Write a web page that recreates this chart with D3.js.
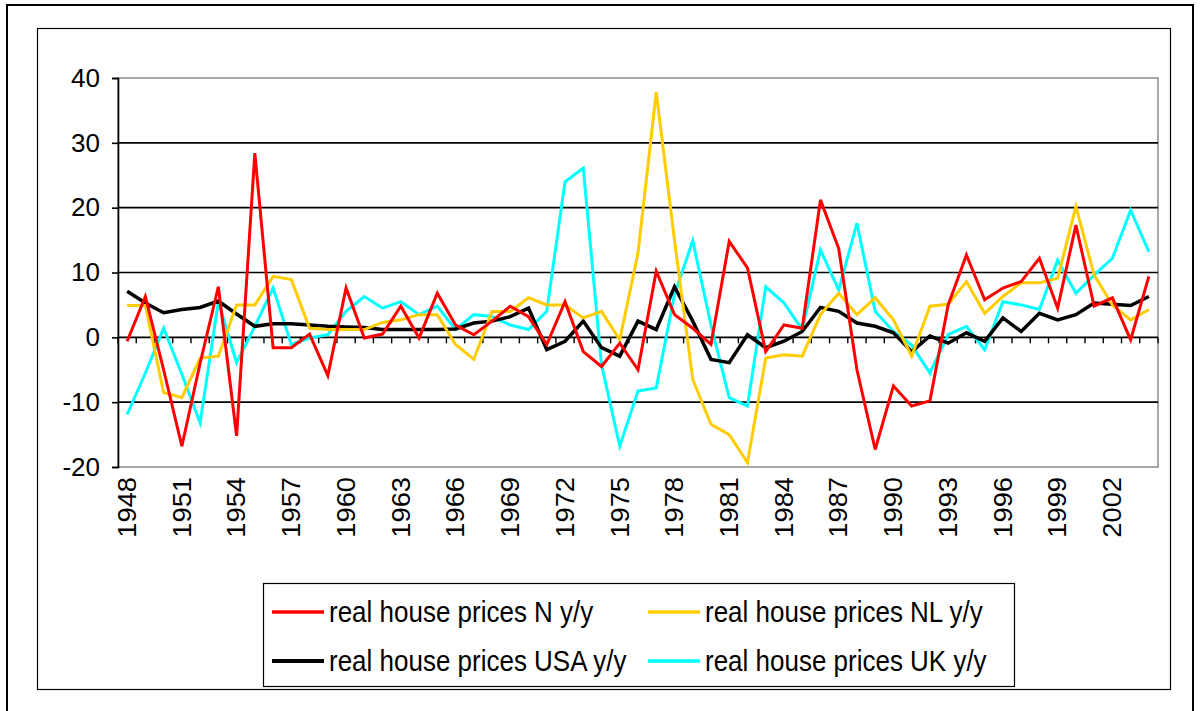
<!DOCTYPE html>
<html>
<head>
<meta charset="utf-8">
<script src="https://cdn.jsdelivr.net/npm/d3@7"></script>
<style>
  html, body { margin: 0; padding: 0; background: #fff; }
  svg { display: block; }
  text { font-family: "Liberation Sans", Arial, sans-serif; fill: #000; }
</style>
</head>
<body>
<svg id="chart" width="1200" height="711"></svg>
<script>
// ---- data ----
const years = d3.range(1948, 2005).map(String);
const seriesNames = ["real house prices N y/y", "real house prices NL y/y", "real house prices USA y/y", "real house prices UK y/y"];
const seriesColors = ["#FF0000", "#FFCC00", "#000000", "#00FFFF"];
const norway = [-0.6, 6.3, -5, -16.8, -4, 7.8, -15.2, 28.4, -1.6, -1.6, 0.5, -5.9, 7.6, -0.1, 0.5, 4.8, -0.1, 6.8, 1.9, 0.4, 2.5, 4.8, 3.2, -1.1, 5.5, -2.2, -4.5, -0.9, -5.0, 10.2, 3.5, 1.4, -1.1, 14.8, 10.7, -2.2, 1.9, 1.4, 21.2, 13.7, -5, -17.3, -7.5, -10.6, -9.8, 5.0, 12.7, 5.8, 7.6, 8.6, 12.2, 4.5, 17.3, 4.8, 6.1, -0.4, 9.4];
const netherlands = [4.9, 4.9, -8.5, -9.3, -3.2, -2.9, 5.0, 5.0, 9.4, 8.9, 1.4, 1.2, 1.2, 1.2, 2.3, 2.7, 3.5, 3.5, -1.1, -3.4, 4.0, 4.0, 6.1, 5.0, 5.0, 3.0, 4.0, -0.4, 13, 37.8, 15, -6.5, -13.4, -15.0, -19.3, -3.2, -2.7, -2.9, 3.5, 6.8, 3.5, 6.1, 2.7, -2.9, 4.8, 5.1, 8.6, 3.7, 6.3, 8.4, 8.4, 9.1, 20.2, 9.6, 5.0, 2.7, 4.3];
const usa = [7.1, 5.3, 3.8, 4.3, 4.6, 5.6, 3.6, 1.7, 2.1, 2.1, 1.9, 1.7, 1.6, 1.5, 1.2, 1.2, 1.2, 1.2, 1.3, 2.2, 2.5, 3.2, 4.5, -1.9, -0.6, 2.5, -1.6, -2.9, 2.5, 1.2, 7.8, 2.5, -3.4, -3.9, 0.4, -1.6, -0.6, 0.9, 4.6, 4.0, 2.2, 1.7, 0.7, -2.2, 0.2, -0.9, 0.7, -0.6, 3.0, 0.9, 3.7, 2.7, 3.5, 5.3, 5.1, 4.9, 6.3];
const uk = [-11.9, -5.5, 1.4, -5.7, -13.2, 5.5, -3.9, 1.7, 7.6, -1.1, -0.1, 0.4, 4.0, 6.3, 4.5, 5.5, 3.5, 4.8, 1.2, 3.5, 3.2, 1.9, 1.2, 4.0, 24.0, 26.1, -4.2, -16.8, -8.3, -7.8, 6.6, 14.9, 1.9, -9.3, -10.6, 7.8, 5.3, 1.2, 13.5, 7.3, 17.6, 4.0, 0.9, -1.2, -5.5, 0.4, 1.7, -1.9, 5.5, 5.0, 4.3, 11.9, 6.8, 9.6, 12.2, 19.6, 13.2];
const yTicks = [-20, -10, 0, 10, 20, 30, 40];
const xTickLabels = ["1948", "1951", "1954", "1957", "1960", "1963", "1966", "1969", "1972", "1975", "1978", "1981", "1984", "1987", "1990", "1993", "1996", "1999", "2002"];

const seriesValues = [norway, netherlands, usa, uk];

// ---- layout ----
const svg = d3.select("#chart");
const plot = { left: 118, right: 1158, top: 78, bottom: 467 };

const x = d3.scaleBand().domain(years).range([plot.left, plot.right]).padding(0);
const y = d3.scaleLinear().domain([-20, 40]).range([plot.bottom, plot.top]);
const cx = d => x(d) + x.bandwidth() / 2;

// outer frame
svg.append("rect").attr("x", 7).attr("y", 5).attr("width", 1186).attr("height", 720)
  .attr("fill", "#fff").attr("stroke", "#000").attr("stroke-width", 2);
// chart area frame
svg.append("rect").attr("x", 37.5).attr("y", 28.5).attr("width", 1133).attr("height", 661)
  .attr("fill", "#fff").attr("stroke", "#000").attr("stroke-width", 1.2);

// plot area
svg.append("rect").attr("x", plot.left).attr("y", plot.top)
  .attr("width", plot.right - plot.left).attr("height", plot.bottom - plot.top)
  .attr("fill", "#fff").attr("stroke", "#8c8c8c").attr("stroke-width", 1.5);

// gridlines
svg.append("g").selectAll("line").data(yTicks.filter(t => t !== 0 && t !== -20 && t !== 40)).join("line")
  .attr("x1", plot.left).attr("x2", plot.right)
  .attr("y1", d => y(d)).attr("y2", d => y(d))
  .attr("stroke", "#000").attr("stroke-width", 1.6);

// y axis
const yAxis = svg.append("g").attr("transform", `translate(${plot.left},0)`)
  .call(d3.axisLeft(y).tickValues(yTicks).tickSize(6).tickPadding(12).tickFormat(d => String(d)));
yAxis.select(".domain").attr("stroke", "#000").attr("stroke-width", 1.6);
yAxis.selectAll(".tick line").attr("stroke", "#000").attr("stroke-width", 1.6);
yAxis.selectAll(".tick text").attr("font-size", 26).attr("font-family", "Liberation Sans, Arial, sans-serif").attr("fill", "#000");

// x axis at zero
const boundaries = years.map(d => x(d)).concat([x(years[years.length - 1]) + x.bandwidth()]);
svg.append("line").attr("x1", plot.left).attr("x2", plot.right)
  .attr("y1", y(0)).attr("y2", y(0)).attr("stroke", "#000").attr("stroke-width", 1.8);
svg.append("g").selectAll("line").data(boundaries).join("line")
  .attr("x1", d => d).attr("x2", d => d)
  .attr("y1", y(0)).attr("y2", y(0) + 6)
  .attr("stroke", "#000").attr("stroke-width", 1.4);

// x labels (rotated)
svg.append("g").selectAll("text").data(xTickLabels).join("text")
  .attr("transform", d => `translate(${cx(d)},${plot.bottom + 10}) scale(1,1.05) rotate(-90)`)
  .attr("text-anchor", "end")
  .attr("dominant-baseline", "central")
  .attr("font-size", 26)
  .text(d => d);

// lines
const line = d3.line().x((d, i) => cx(years[i])).y(d => y(d));
const drawOrder = [3, 2, 1, 0];
svg.append("g").selectAll("path").data(drawOrder).join("path")
  .attr("d", k => line(seriesValues[k]))
  .attr("fill", "none")
  .attr("stroke", k => seriesColors[k])
  .attr("stroke-width", k => k === 2 ? 3.5 : 3)
  .attr("stroke-linejoin", "miter");

// legend
const legend = svg.append("g");
legend.append("rect").attr("x", 263.5).attr("y", 583.5).attr("width", 751).attr("height", 103)
  .attr("fill", "#fff").attr("stroke", "#000").attr("stroke-width", 1.2);
const legPos = [[272, 612], [648, 612], [272, 661], [648, 661]];
seriesNames.forEach((name, k) => {
  const [lx, ly] = legPos[k];
  legend.append("line").attr("x1", lx).attr("x2", lx + 52).attr("y1", ly).attr("y2", ly)
    .attr("stroke", seriesColors[k]).attr("stroke-width", k === 2 ? 4 : 3.5);
  legend.append("text")
    .attr("transform", `translate(${lx + 57},${ly}) scale(1,1.15)`)
    .attr("dominant-baseline", "central")
    .attr("font-size", 26).text(name);
});
</script>
</body>
</html>
